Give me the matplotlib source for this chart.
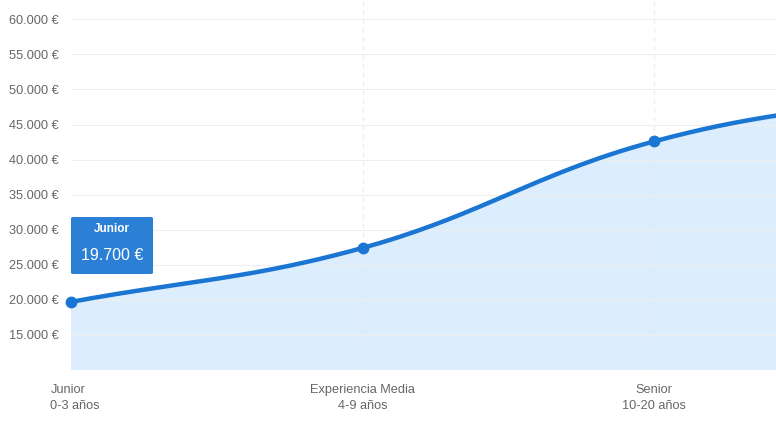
import numpy as np
import matplotlib
matplotlib.use("Agg")
import matplotlib.pyplot as plt
from matplotlib.patches import FancyBboxPatch
from matplotlib.transforms import ScaledTranslation

plt.rcParams['font.family'] = ['Liberation Sans', 'DejaVu Sans']

categories = ["Junior\n0-3 años", "Experiencia Media\n4-9 años", "Senior\n10-20 años", ""]
salaries = [19700, 27400, 42600, 49800]
yticks = [15000, 20000, 25000, 30000, 35000, 40000, 45000, 50000, 55000, 60000]
tooltip_title = "Junior"
tooltip_value = "19.700 €"

LINE = "#1a76d2"
W, H = 776, 425
XMAX = (W - 70.7) / 291.8
fig = plt.figure(figsize=(W / 100, H / 100), dpi=100)
ax = fig.add_axes([70.7 / W, (H - 370) / H, 1 - 70.7 / W, 370 / H])
ax.set_xlim(0, XMAX)
ax.set_ylim(10000, 62750)

x = np.arange(len(salaries), dtype=float)
y = np.array(salaries, dtype=float)

# Chart.js-like bezier spline (tension 0.4) computed in pixel space
fig.canvas.draw()
pts = ax.transData.transform(np.column_stack([x, y]))
t = 0.4
n = len(pts)
cp_prev, cp_next = [], []
for i in range(n):
    p0 = pts[i - 1] if i > 0 else pts[i]
    p1 = pts[i]
    p2 = pts[i + 1] if i < n - 1 else pts[i]
    d01 = np.hypot(*(p1 - p0))
    d12 = np.hypot(*(p2 - p1))
    s = d01 + d12
    s01 = d01 / s if s else 0
    s12 = d12 / s if s else 0
    cp_prev.append(p1 - t * s01 * (p2 - p0))
    cp_next.append(p1 + t * s12 * (p2 - p0))
curve = []
tt = np.linspace(0, 1, 60)[:, None]
for i in range(n - 1):
    a, b, c, d = pts[i], cp_next[i], cp_prev[i + 1], pts[i + 1]
    seg = (1 - tt) ** 3 * a + 3 * (1 - tt) ** 2 * tt * b + 3 * (1 - tt) * tt ** 2 * c + tt ** 3 * d
    curve.append(seg if i == 0 else seg[1:])
curve = np.vstack(curve)
cd = ax.transData.inverted().transform(curve)

ax.fill_between(cd[:, 0], cd[:, 1], 10000, color="#dcedfd", zorder=1, lw=0)
ax.plot(cd[:, 0], cd[:, 1], color=LINE, lw=3.2, zorder=4, solid_capstyle="round")
ax.plot(x[:3], y[:3], "o", color=LINE, ms=7.5, zorder=5, clip_on=False)

# grid
for v in yticks:
    ax.axhline(v, color="#eeeeee", lw=0.8, zorder=2)
for xi in x[1:]:
    ax.axvline(xi, color="#ebebeb", lw=0.8, ls=(0, (4, 4)), zorder=2)

for s in ax.spines.values():
    s.set_visible(False)
ax.set_yticks(yticks)
ax.set_yticklabels([f"{v:,.0f} €".replace(",", ".") for v in yticks])
ax.set_xticks(x)
ax.set_xticklabels(categories, linespacing=1.45)
ax.set_xlim(0, XMAX)
ax.set_ylim(10000, 62750)
ax.tick_params(axis="y", length=0, pad=8.5, labelsize=9.2, labelcolor="#666666")
ax.tick_params(axis="x", length=0, pad=10, labelsize=9.2, labelcolor="#666666")

# first category label: lines left-aligned, block shifted slightly right
first = ax.get_xticklabels()[0]
first.set_multialignment("left")
first.set_transform(first.get_transform() + ScaledTranslation(4.5 / 100, 0, fig.dpi_scale_trans))

# tooltip
bx0, by0, bx1, by1 = 71, 217, 153, 274
box = FancyBboxPatch((bx0 / W, (H - by1) / H), (bx1 - bx0) / W, (by1 - by0) / H,
                     boxstyle="round,pad=0,rounding_size=0.003", transform=fig.transFigure,
                     facecolor="#2b80d5", edgecolor="none", zorder=10)
fig.patches.append(box)
fig.text((bx0 + bx1) / 2 / W, (H - 229) / H, tooltip_title, color="white", fontsize=8.5,
         fontweight="bold", ha="center", va="center", zorder=11)
fig.text((bx0 + bx1) / 2 / W, (H - 255) / H, tooltip_value, color="white", fontsize=11.5,
         ha="center", va="center", zorder=11)

fig.savefig("out.png", dpi=100)
